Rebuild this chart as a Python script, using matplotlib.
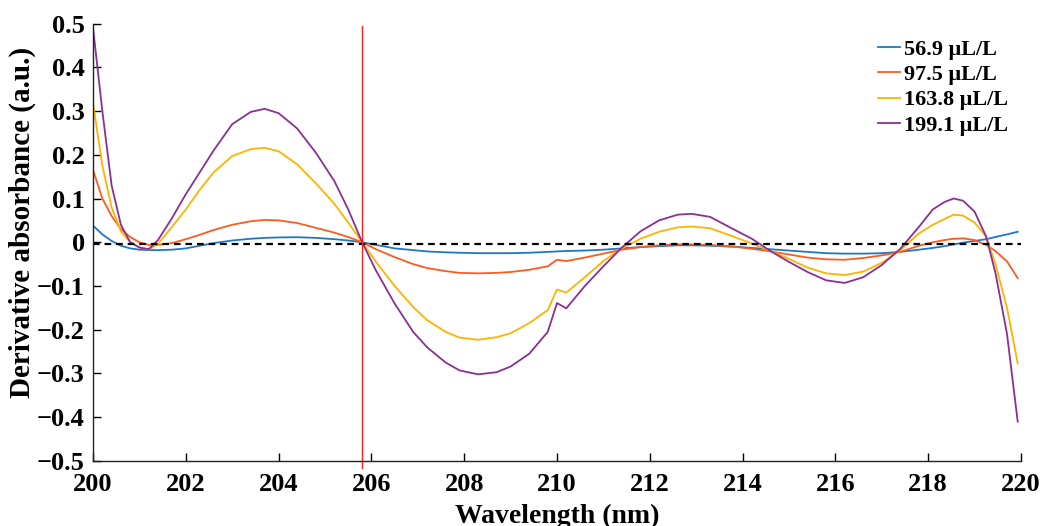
import numpy as np
import matplotlib
matplotlib.use('Agg')
import matplotlib.pyplot as plt

# wavelength grid (nm)
wavelength = [200.0, 200.2, 200.4, 200.6, 200.8, 201.0, 201.2, 201.4, 201.7, 202.0,
              202.3, 202.6, 203.0, 203.4, 203.7, 204.0, 204.4, 204.8, 205.2, 205.5,
              205.8, 206.1, 206.5, 206.9, 207.2, 207.6, 207.9, 208.3, 208.7, 209.0,
              209.4, 209.8, 210.0, 210.2, 210.6, 211.0, 211.4, 211.8, 212.2, 212.6,
              212.9, 213.3, 213.8, 214.2, 214.6, 215.0, 215.4, 215.8, 216.2, 216.6,
              217.0, 217.4, 217.8, 218.1, 218.35, 218.55, 218.75, 219.0, 219.25, 219.45,
              219.7, 219.93]

c_56_9 = [0.038, 0.018, 0.003, -0.008, -0.014, -0.017, -0.018, -0.018, -0.017, -0.014,
          -0.008, -0.002, 0.004, 0.008, 0.010, 0.011, 0.0115, 0.010, 0.007, 0.004,
          0.0, -0.006, -0.014, -0.018, -0.021, -0.023, -0.024, -0.025, -0.025, -0.025,
          -0.024, -0.022, -0.021, -0.020, -0.019, -0.017, -0.014, -0.011, -0.009, -0.007,
          -0.007, -0.008, -0.010, -0.013, -0.016, -0.019, -0.022, -0.025, -0.026, -0.026,
          -0.025, -0.022, -0.017, -0.013, -0.009, -0.005, -0.001, 0.003, 0.007, 0.012,
          0.018, 0.024]

c_97_5 = [0.165, 0.100, 0.060, 0.030, 0.012, 0.0, -0.006, -0.006, -0.002, 0.007,
          0.017, 0.028, 0.040, 0.048, 0.051, 0.050, 0.044, 0.033, 0.022, 0.012,
          0.0, -0.016, -0.034, -0.050, -0.059, -0.066, -0.070, -0.071, -0.070, -0.068,
          -0.063, -0.055, -0.040, -0.043, -0.035, -0.026, -0.017, -0.011, -0.007, -0.005,
          -0.005, -0.006, -0.010, -0.015, -0.021, -0.028, -0.035, -0.039, -0.040, -0.036,
          -0.030, -0.022, -0.008, 0.0, 0.005, 0.008, 0.009, 0.005, -0.006, -0.020,
          -0.044, -0.082]

c_163_8 = [0.318, 0.175, 0.080, 0.025, 0.0, -0.012, -0.017, -0.004, 0.035, 0.075,
           0.120, 0.160, 0.197, 0.213, 0.216, 0.208, 0.178, 0.135, 0.088, 0.045,
           0.0, -0.045, -0.100, -0.148, -0.178, -0.205, -0.218, -0.223, -0.217, -0.208,
           -0.185, -0.155, -0.108, -0.115, -0.080, -0.043, -0.014, 0.008, 0.024, 0.034,
           0.036, 0.032, 0.013, -0.003, -0.020, -0.038, -0.058, -0.071, -0.075, -0.067,
           -0.047, -0.018, 0.020, 0.040, 0.053, 0.063, 0.061, 0.045, 0.013, -0.050,
           -0.150, -0.277]

c_199_1 = [0.490, 0.300, 0.130, 0.040, 0.0, -0.012, -0.016, 0.005, 0.055, 0.110,
           0.160, 0.210, 0.270, 0.298, 0.305, 0.295, 0.260, 0.205, 0.140, 0.075,
           0.0, -0.065, -0.140, -0.205, -0.240, -0.275, -0.293, -0.302, -0.297, -0.284,
           -0.255, -0.205, -0.139, -0.151, -0.100, -0.055, -0.012, 0.025, 0.050, 0.063,
           0.065, 0.058, 0.030, 0.008, -0.020, -0.045, -0.068, -0.087, -0.093, -0.080,
           -0.052, -0.015, 0.035, 0.075, 0.092, 0.100, 0.095, 0.070, 0.013, -0.070,
           -0.210, -0.410]

series = [c_56_9, c_97_5, c_163_8, c_199_1]
labels = ['56.9 μL/L', '97.5 μL/L', '163.8 μL/L', '199.1 μL/L']
colors = ['#1F77C4', '#FF5A1F', '#FFB300', '#8B2F95']

baseline = -0.005
marker_wl = 205.8
x_ticks = np.arange(200, 221, 2)
y_ticks = np.round(np.arange(-0.5, 0.51, 0.1), 1)


def fmt_y(v):
    if abs(v) < 1e-9:
        return '0'
    return f'{v:g}'.replace('-', '\u2212')


plt.rcParams['font.family'] = ['Liberation Serif', 'DejaVu Serif']
plt.rcParams['font.weight'] = 'bold'

fig = plt.figure(figsize=(10.42, 5.26), dpi=100)
ax = fig.add_axes([0.0893, 0.1236, 0.8905, 0.8317])

for ys, lab, col in zip(series, labels, colors):
    ax.plot(wavelength, ys, color=col, lw=1.3, label=lab)

ax.plot([200, 220], [baseline, baseline], color='black', lw=1.6,
        dashes=(3, 2.2))
ax.plot([marker_wl, marker_wl], [-0.515, 0.495], color='#FF2020', lw=1.0,
        clip_on=False)

ax.set_xlim(200, 220)
ax.set_ylim(-0.5, 0.5)
ax.set_xticks(x_ticks)
ax.set_xticklabels([f'{v:d}' for v in x_ticks])
ax.set_yticks(y_ticks)
ax.set_yticklabels([fmt_y(v) for v in y_ticks])
ax.tick_params(direction='in', length=6, width=1.0, labelsize=19)
ax.tick_params(axis='y', pad=6)
ax.tick_params(axis='x', pad=9)
for lab in ax.get_xticklabels() + ax.get_yticklabels():
    lab.set_fontweight('bold')

ax.spines['top'].set_visible(False)
ax.spines['right'].set_visible(False)
for s in ('left', 'bottom'):
    ax.spines[s].set_linewidth(1.0)
    ax.spines[s].set_color('#222222')

ax.set_xlabel('Wavelength (nm)', fontsize=20, fontweight='bold')
ax.xaxis.set_label_coords(0.5, -0.097)
ax.xaxis.label.set_va('top')
ax.set_ylabel('Derivative absorbance (a.u.)', fontsize=21, fontweight='bold')
ax.yaxis.set_label_coords(-0.062, 0.545)

ax.legend(loc='upper right', frameon=False, handlelength=1.0,
          handletextpad=0.15, labelspacing=0.22, borderaxespad=0.2,
          bbox_to_anchor=(1.0, 0.995),
          prop={'weight': 'bold', 'size': 16})

fig.savefig('out.png', dpi=100)
